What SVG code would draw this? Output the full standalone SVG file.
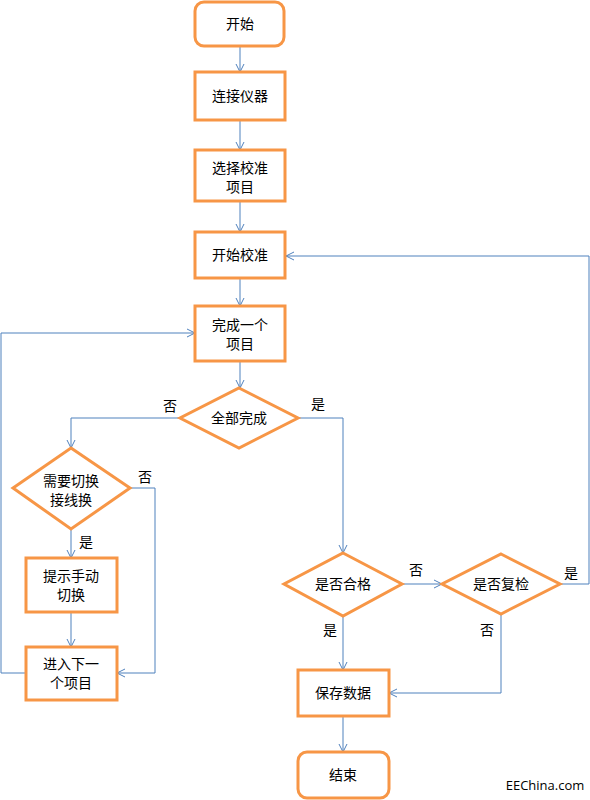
<svg xmlns="http://www.w3.org/2000/svg" width="590" height="800" viewBox="0 0 590 800">
<style>
.n{fill:#fff;stroke:#F79646;stroke-width:3}
.t{font-family:"Noto Sans CJK SC","Liberation Sans",sans-serif;font-size:14px;fill:#000;text-anchor:middle}
.e{stroke:#4F81BD;stroke-width:1;fill:none}
.l{font-family:"Noto Sans CJK SC","Liberation Sans",sans-serif;font-size:14px;fill:#000;text-anchor:middle}
</style>
<defs>
<marker id="a" markerWidth="10" markerHeight="10" refX="9" refY="5" orient="auto" markerUnits="userSpaceOnUse">
<path d="M1,1 L9,5 L1,9" fill="none" stroke="#4F81BD" stroke-width="1"/>
</marker>
</defs>
<rect width="590" height="800" fill="#fff"/>
<g id="edges">
<path class="e" d="M240,46 V72" marker-end="url(#a)"/>
<path class="e" d="M240,120 V150" marker-end="url(#a)"/>
<path class="e" d="M240,201 V232" marker-end="url(#a)"/>
<path class="e" d="M240,278 V306" marker-end="url(#a)"/>
<path class="e" d="M240,361 V388" marker-end="url(#a)"/>
<path class="e" d="M180,418 H71 V448" marker-end="url(#a)"/>
<path class="e" d="M298,418 H343 V553" marker-end="url(#a)"/>
<path class="e" d="M71,529 V558" marker-end="url(#a)"/>
<path class="e" d="M130,488 H155 V673 H117" marker-end="url(#a)"/>
<path class="e" d="M71,612 V647" marker-end="url(#a)"/>
<path class="e" d="M26,673 H1 V333 H195" marker-end="url(#a)"/>
<path class="e" d="M402,584 H442" marker-end="url(#a)"/>
<path class="e" d="M560,584 H589 V256 H286" marker-end="url(#a)"/>
<path class="e" d="M343,617 V670" marker-end="url(#a)"/>
<path class="e" d="M501,614 V693 H389" marker-end="url(#a)"/>
<path class="e" d="M343,716 V752" marker-end="url(#a)"/>
<text class="l" x="170" y="411">否</text>
<text class="l" x="318" y="409">是</text>
<text class="l" x="145" y="482">否</text>
<text class="l" x="86" y="547">是</text>
<text class="l" x="416" y="575">否</text>
<text class="l" x="571" y="578">是</text>
<text class="l" x="330" y="635">是</text>
<text class="l" x="487" y="635">否</text>
</g>
<g id="start"><rect class="n" x="195" y="2" width="89" height="44" rx="9"/><text class="t" x="240" y="29">开始</text></g>
<g id="connect"><rect class="n" x="195" y="72" width="90" height="48"/><text class="t" x="240" y="101">连接仪器</text></g>
<g id="select"><rect class="n" x="195" y="150" width="90" height="51"/><text class="t" x="240" y="173">选择校准</text><text class="t" x="240" y="192">项目</text></g>
<g id="begin"><rect class="n" x="195" y="232" width="90" height="46"/><text class="t" x="240" y="260">开始校准</text></g>
<g id="finishone"><rect class="n" x="195" y="306" width="90" height="55"/><text class="t" x="240" y="330">完成一个</text><text class="t" x="240" y="349">项目</text></g>
<g id="allDone"><polygon class="n" points="239,388 298,418 239,448 180,418"/><text class="t" x="239" y="423">全部完成</text></g>
<g id="needSwitch"><polygon class="n" points="71,448 130,488 71,529 13,488"/><text class="t" x="71" y="486">需要切换</text><text class="t" x="71" y="505">接线换</text></g>
<g id="prompt"><rect class="n" x="26" y="558" width="91" height="54"/><text class="t" x="71" y="581">提示手动</text><text class="t" x="71" y="600">切换</text></g>
<g id="next"><rect class="n" x="26" y="647" width="91" height="53"/><text class="t" x="71" y="669">进入下一</text><text class="t" x="71" y="688">个项目</text></g>
<g id="pass"><polygon class="n" points="343,553 402,584 343,616 284,584"/><text class="t" x="343" y="589">是否合格</text></g>
<g id="recheck"><polygon class="n" points="501,554 560,584 501,614 442,584"/><text class="t" x="501" y="589">是否复检</text></g>
<g id="save"><rect class="n" x="298" y="670" width="91" height="46"/><text class="t" x="343" y="698">保存数据</text></g>
<g id="end"><rect class="n" x="298" y="752" width="91" height="46" rx="9"/><text class="t" x="343" y="780">结束</text></g>
<text x="545" y="790" font-family="'Open Sans','Liberation Sans',sans-serif" font-size="13" fill="#000" text-anchor="middle">EEChina.com</text>
</svg>
